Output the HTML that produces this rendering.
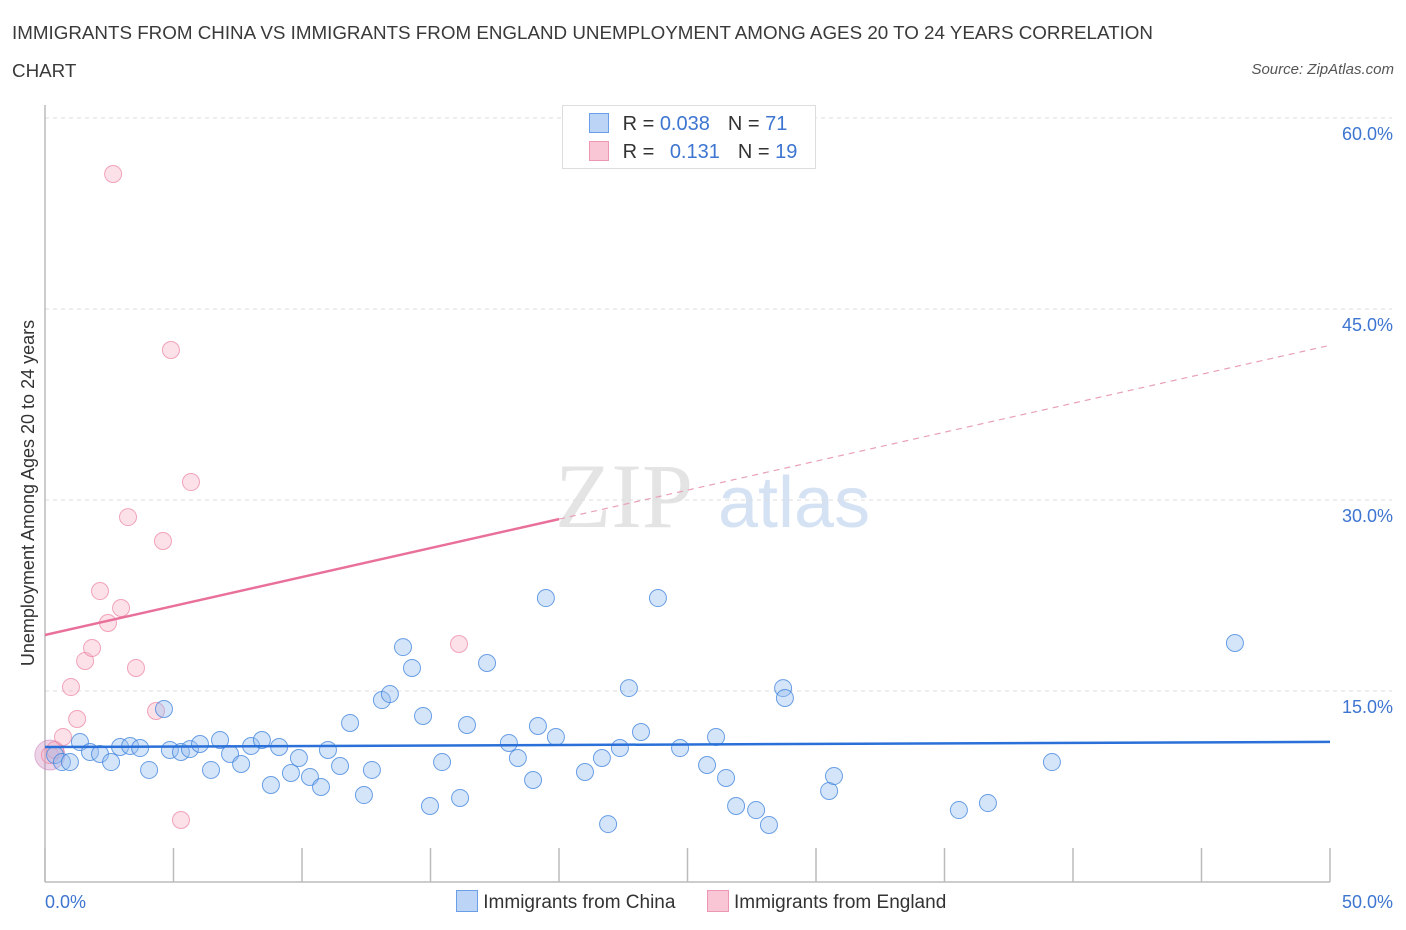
<!DOCTYPE html>
<html><head><meta charset="utf-8"><style>
body{margin:0;background:#fff;font-family:"Liberation Sans",sans-serif;}
#wrap{position:relative;width:1406px;height:930px;overflow:hidden;}
.t{position:absolute;color:#3a3a3a;}
</style></head><body>
<div id="wrap">
<div class="t" style="left:12px;top:14px;font-size:18.8px;line-height:38px;width:1200px;">IMMIGRANTS FROM CHINA VS IMMIGRANTS FROM ENGLAND UNEMPLOYMENT AMONG AGES 20 TO 24 YEARS CORRELATION<br>CHART</div>
<div class="t" style="right:12px;top:61px;font-size:15px;font-style:italic;color:#555;">Source: ZipAtlas.com</div>
<svg id="svg" width="1406" height="930" style="position:absolute;left:0;top:0"></svg>
</div>
<script>
const yTicks=[15,30,45,60];
const yTickLabels=["15.0%","30.0%","45.0%","60.0%"];
const xLabels=["0.0%","50.0%"];
const chinaX=[0.39,0.66,0.97,1.36,1.75,2.14,2.57,2.92,3.31,3.70,4.05,4.63,4.86,5.29,5.64,6.03,6.46,6.81,7.20,7.63,8.02,8.44,8.79,9.11,9.57,9.88,10.31,10.74,11.01,11.48,11.87,12.41,12.72,13.11,13.42,13.93,14.28,14.71,14.98,15.45,16.15,16.42,17.20,18.05,18.40,18.99,19.18,19.49,19.88,21.01,21.67,21.91,22.37,22.72,23.19,23.85,24.71,25.76,26.11,26.50,26.89,27.67,28.17,28.72,28.79,30.51,30.70,35.56,36.69,39.18,46.30];
const chinaY=[9.97,9.42,9.42,10.99,10.21,10.05,9.42,10.60,10.68,10.52,8.80,13.59,10.37,10.21,10.44,10.84,8.80,11.15,10.05,9.27,10.68,11.15,7.62,10.60,8.56,9.74,8.25,7.46,10.37,9.11,12.49,6.83,8.80,14.29,14.76,18.45,16.81,13.04,5.97,9.42,6.60,12.33,17.20,10.92,9.74,8.01,12.25,22.30,11.39,8.64,9.74,4.55,10.52,15.23,11.78,22.30,10.52,9.19,11.39,8.17,5.97,5.65,4.48,15.23,14.45,7.15,8.32,5.65,6.20,9.42,18.77];
const englandX=[0.19,0.39,0.70,1.01,1.25,1.56,1.83,2.14,2.45,2.65,2.96,3.23,3.54,4.32,4.59,4.90,5.29,5.68,16.11];
const englandY=[9.97,10.37,11.39,15.31,12.80,17.36,18.38,22.85,20.34,55.60,21.52,28.66,16.81,13.43,26.78,41.78,4.87,31.41,18.69];
const chinaTrend=[10.6,0.008]; // intercept, slope
const englandTrend=[19.4,0.455];
const englandSolidEnd=20;

const X0=45,X1=1330,Y0=882,Y1=118;
const sx=v=>X0+(v/50)*(X1-X0);
const sy=v=>Y0-(v/60)*(Y0-Y1);
const svg=document.getElementById('svg');
const NS='http://www.w3.org/2000/svg';
function mk(tag,attrs,parent){const e=document.createElementNS(NS,tag);for(const k in attrs)e.setAttribute(k,attrs[k]);(parent||svg).appendChild(e);return e;}

let wm=mk('text',{x:555,y:527,'font-size':92,'font-family':'Liberation Serif,serif',fill:'#e4e4e4'});wm.textContent='ZIP';


let wm2=mk('text',{x:718,y:527,'font-size':72,'font-family':'Liberation Sans,sans-serif',fill:'#d4e2f4'});wm2.textContent='atlas';



yTicks.forEach((v,i)=>{
 const g=mk('line',{x1:X0,x2:1392,y1:sy(v),y2:sy(v),stroke:'#dcdcdc','stroke-dasharray':'4,4'});
 
 
 const t=mk('text',{x:1393,y:sy(v)+22,'text-anchor':'end','font-size':18,fill:'#3d75d0','font-family':'Liberation Sans,sans-serif'});
 t.textContent=yTickLabels[i];
 
 
});
const ax=mk('line',{x1:X0,x2:X0,y1:105,y2:Y0,stroke:'#bbb','stroke-width':1.5});


const axx=mk('line',{x1:X0,x2:X1,y1:Y0,y2:Y0,stroke:'#bbb','stroke-width':1.5});


for(let i=0;i<=10;i++){const tk=mk('line',{x1:sx(i*5),x2:sx(i*5),y1:848,y2:Y0,stroke:'#bbb','stroke-width':1.5});
 
 }
[[0,'start',45],[50,'end',1393]].forEach((d,i)=>{const t=mk('text',{x:d[2],y:908,'text-anchor':d[1],'font-size':18,fill:'#3d75d0','font-family':'Liberation Sans,sans-serif'});t.textContent=xLabels[i];
 
 });
const yt=mk('text',{x:0,y:0,transform:'translate(34,493) rotate(-90)','text-anchor':'middle','font-size':18,fill:'#333','font-family':'Liberation Sans,sans-serif'});
yt.textContent='Unemployment Among Ages 20 to 24 years';



const big=mk('circle',{cx:sx(englandX[0]),cy:sy(englandY[0]),r:15,fill:'rgba(200,130,190,0.35)',stroke:'rgba(200,120,180,0.5)'});


englandX.forEach((x,i)=>{const c=mk('circle',{cx:sx(x),cy:sy(englandY[i]),r:8.5,fill:'rgba(248,180,200,0.4)',stroke:'rgba(235,130,160,0.7)','stroke-width':1});
 
 });
chinaX.forEach((x,i)=>{const c=mk('circle',{cx:sx(x),cy:sy(chinaY[i]),r:8.5,fill:'rgba(150,190,240,0.4)',stroke:'rgba(60,130,220,0.75)','stroke-width':1});
 
 });

const ct=mk('line',{x1:sx(0),y1:sy(chinaTrend[0]),x2:sx(50),y2:sy(chinaTrend[0]+50*chinaTrend[1]),stroke:'#2a70d8','stroke-width':2.5});


const et=mk('line',{x1:sx(0),y1:sy(englandTrend[0]),x2:sx(englandSolidEnd),y2:sy(englandTrend[0]+englandSolidEnd*englandTrend[1]),stroke:'#e8709a','stroke-width':2.5});


const ed=mk('line',{x1:sx(englandSolidEnd),y1:sy(englandTrend[0]+englandSolidEnd*englandTrend[1]),x2:sx(50),y2:sy(englandTrend[0]+50*englandTrend[1]),stroke:'#e8a0b8','stroke-width':1.2,'stroke-dasharray':'6,5'});


</script>
<div style="position:absolute;left:562px;top:105px;width:252px;height:62px;border:1px solid #ddd;background:#fff;font-size:20px;color:#333;">
 <div style="position:absolute;left:26px;top:7px;">
  <span style="display:inline-block;width:18px;height:18px;background:#bcd4f6;border:1px solid #6a9ee6;vertical-align:-3px;"></span>
  <span style="margin-left:8px">R = </span><span style="color:#3d75d0">0.038</span><span style="margin-left:18px">N = </span><span style="color:#3d75d0">71</span></div>
 <div style="position:absolute;left:26px;top:35px;">
  <span style="display:inline-block;width:18px;height:18px;background:#f9c6d6;border:1px solid #ec98b4;vertical-align:-3px;"></span>
  <span style="margin-left:8px">R = </span><span style="color:#3d75d0;margin-left:10px">0.131</span><span style="margin-left:18px">N = </span><span style="color:#3d75d0">19</span></div>
</div>
<div style="position:absolute;left:456px;top:890px;font-size:19px;color:#333;white-space:nowrap;">
 <span><span style="display:inline-block;width:20px;height:20px;background:#bcd4f6;border:1px solid #6a9ee6;vertical-align:-4px;"></span> Immigrants from China</span>
 <span style="margin-left:26px"><span style="display:inline-block;width:20px;height:20px;background:#f9c6d6;border:1px solid #ec98b4;vertical-align:-4px;"></span> Immigrants from England</span>
</div>
</body></html>
